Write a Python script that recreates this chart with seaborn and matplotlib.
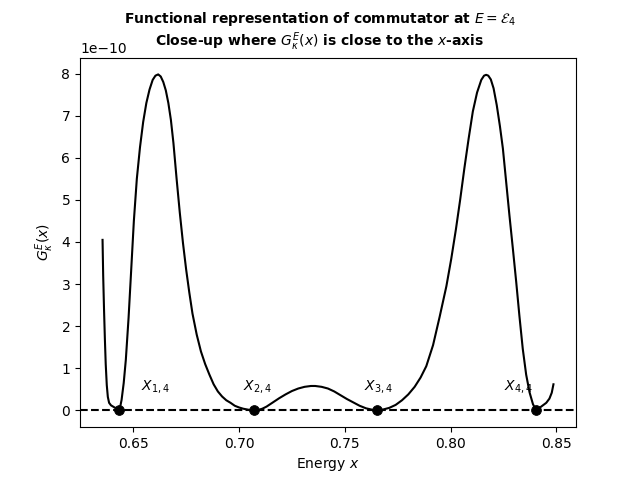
import matplotlib
matplotlib.use("Agg")
import numpy as np
import matplotlib.pyplot as plt
import seaborn as sns

# Curve (y in units of 1e-10)
energy = [
    0.6355, 0.6358, 0.6362, 0.6366, 0.6370, 0.6375, 0.6380, 0.6386, 0.6395,
    0.6405, 0.6415, 0.6425, 0.6435, 0.6445, 0.6455, 0.6465, 0.6478, 0.6490,
    0.6503, 0.6517, 0.6532, 0.6547, 0.6562, 0.6577, 0.6592, 0.6605, 0.6618,
    0.6630, 0.6642, 0.6654, 0.6666, 0.6678, 0.6690, 0.6705, 0.6720, 0.6735,
    0.6750, 0.6765, 0.6780, 0.6800, 0.6820, 0.6840, 0.6860, 0.6880, 0.6900,
    0.6920, 0.6940, 0.6960, 0.6980, 0.7000, 0.7020, 0.7045, 0.7070,
    0.7090, 0.7110, 0.7130, 0.7160, 0.7190, 0.7220, 0.7250, 0.7280, 0.7310,
    0.7340, 0.7360, 0.7390, 0.7420, 0.7450, 0.7480, 0.7510, 0.7540, 0.7570,
    0.7600, 0.7630, 0.7652,
    0.7680, 0.7710, 0.7740, 0.7770, 0.7800, 0.7830, 0.7858, 0.7885, 0.7917,
    0.7948, 0.7980, 0.8003, 0.8025, 0.8045, 0.8065, 0.8085, 0.8105, 0.8125,
    0.8145, 0.8158, 0.8168, 0.8178, 0.8190, 0.8203, 0.8218, 0.8233, 0.8247,
    0.8263, 0.8278, 0.8294, 0.8310, 0.8325, 0.8341, 0.8357, 0.8373, 0.8389,
    0.8404, 0.8420, 0.8436, 0.8452, 0.8467, 0.8478, 0.8486,
]
g_value = [
    4.05, 3.20, 2.40, 1.70, 1.10, 0.60, 0.32, 0.18, 0.12,
    0.09, 0.06, 0.03, 0.00, 0.25, 0.65, 1.20, 2.20, 3.30,
    4.50, 5.50, 6.25, 6.85, 7.30, 7.62, 7.85, 7.95, 7.98,
    7.93, 7.80, 7.60, 7.30, 6.90, 6.35, 5.50, 4.70, 3.98,
    3.35, 2.80, 2.30, 1.80, 1.40, 1.10, 0.85, 0.62, 0.45,
    0.33, 0.24, 0.18, 0.11, 0.07, 0.04, 0.015, 0.00,
    0.01, 0.04, 0.09, 0.19, 0.29, 0.38, 0.46, 0.52, 0.56,
    0.58, 0.58, 0.56, 0.52, 0.45, 0.36, 0.27, 0.19, 0.11,
    0.05, 0.015, 0.00,
    0.02, 0.06, 0.13, 0.24, 0.38, 0.56, 0.78, 1.05, 1.55,
    2.22, 2.95, 3.60, 4.30, 5.00, 5.75, 6.45, 7.10, 7.55,
    7.85, 7.95, 7.97, 7.95, 7.86, 7.65, 7.25, 6.75, 6.22,
    5.40, 4.63, 3.85, 3.05, 2.25, 1.46, 0.85, 0.43, 0.15,
    0.00, 0.06, 0.12, 0.18, 0.28, 0.42, 0.62,
]

roots = [0.6435, 0.7070, 0.7652, 0.8404]
root_labels = ["$X_{1,4}$", "$X_{2,4}$", "$X_{3,4}$", "$X_{4,4}$"]
label_x = [0.6606, 0.7085, 0.7660, 0.8320]

y = np.array(g_value) * 1e-10

fig, ax = plt.subplots(figsize=(6.4, 4.8), dpi=100)
sns.lineplot(x=energy, y=y, color="black", linewidth=1.5, sort=False,
             estimator=None, ax=ax)
ax.axhline(0, color="black", linestyle="--", linewidth=1.5)
sns.scatterplot(x=roots, y=[0] * len(roots), color="black", s=50,
                edgecolor="black", zorder=5, ax=ax)

for lx, lab in zip(label_x, root_labels):
    ax.text(lx, 0.5e-10, lab, ha="center", fontsize=10)

fig.suptitle("Functional representation of commutator at $E = \\mathcal{E}_4$\n"
             "Close-up where $G_\\kappa^E(x)$ is close to the $x$-axis",
             fontweight="bold", fontsize=10)
ax.set_xlabel("Energy $x$")
ax.set_ylabel("$G_\\kappa^E(x)$")

fig.savefig("out.png")
